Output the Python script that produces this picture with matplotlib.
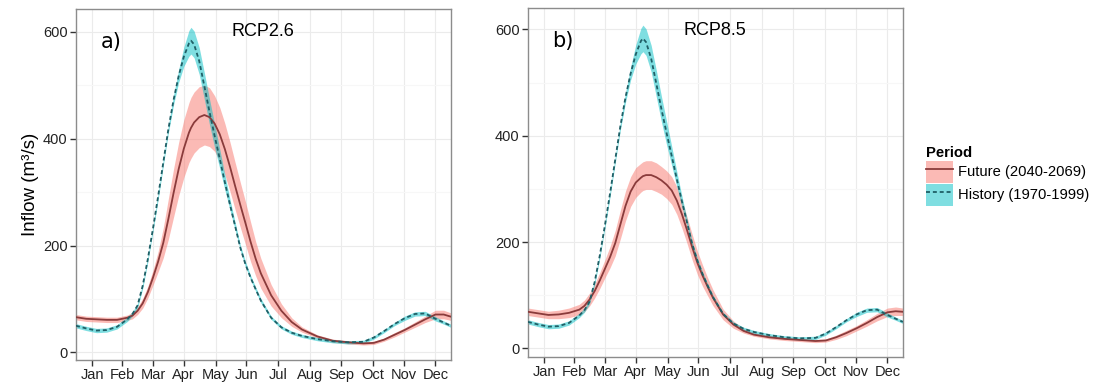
import numpy as np
import matplotlib
matplotlib.use("Agg")
import matplotlib.pyplot as plt
from matplotlib.patches import Patch
from matplotlib.lines import Line2D
from matplotlib.ticker import MultipleLocator

plt.rcParams["font.family"] = ["Liberation Sans", "DejaVu Sans"]

# day of year
days = [0, 10, 20, 30, 40, 50, 55, 60, 65, 70, 75, 80, 85, 90, 95, 100,
        105, 110, 112, 115, 120, 125, 130, 135, 140, 145, 150, 155, 160, 165,
        170, 175, 180, 190, 200, 210, 220, 235, 250, 265, 280, 290, 300,
        310, 320, 330, 340, 350, 358, 365]

# History (1970-1999), same in both panels
hist = [50, 45, 41, 42, 48, 62, 72, 88, 125, 175, 232, 292, 355, 418, 472, 517,
        553, 578, 583, 576, 545, 498, 450, 405, 362, 318, 276, 236, 196, 165,
        140, 118, 97, 65, 47, 37, 31, 25, 21, 19, 20, 28, 40,
        53, 64, 72, 73, 63, 56, 50]
hist_spread = [4, 4, 4, 4, 4, 4, 4, 4, 5, 5, 5, 6, 6, 7, 9, 12,
               18, 24, 25, 25, 25, 25, 24, 22, 18, 14, 10, 7, 5, 5,
               4, 4, 4, 3, 3, 3, 3, 3, 3, 3, 3, 3, 3,
               3, 4, 4, 4, 4, 3, 3]

# Future (2040-2069), RCP2.6
fut_26 = [66, 63, 62, 61, 61, 65, 69, 78, 92, 113, 140, 170, 205, 250, 298, 343,
          381, 411, 420, 430, 440, 444, 440, 428, 408, 380, 347, 311, 276, 242,
          207, 175, 148, 107, 78, 57, 43, 30, 22, 19, 17, 18, 24,
          33, 42, 52, 62, 71, 71, 67]
fut_26_spread = [5, 5, 5, 5, 5, 5, 6, 7, 9, 11, 14, 19, 28, 38, 45, 50,
                 54, 56, 57, 57, 57, 56, 55, 52, 50, 48, 46, 44, 42, 40,
                 37, 32, 28, 20, 13, 8, 5, 3, 3, 3, 3, 3, 3,
                 4, 4, 5, 6, 8, 8, 7]

# Future (2040-2069), RCP8.5
fut_85 = [69, 66, 63, 64, 67, 73, 80, 92, 108, 128, 150, 172, 198, 233, 268, 295,
          312, 321, 324, 326, 326, 322, 316, 308, 297, 278, 252, 222, 190, 161,
          137, 116, 96, 64, 45, 33, 26, 21, 18, 16, 14, 15, 21,
          29, 38, 48, 59, 68, 70, 69]
fut_85_spread = [7, 7, 7, 8, 9, 10, 11, 12, 13, 15, 17, 20, 24, 27, 28, 28,
                 28, 27, 27, 27, 27, 27, 26, 26, 26, 26, 26, 25, 24, 22,
                 20, 17, 15, 10, 7, 4, 3, 3, 3, 3, 3, 3, 4,
                 5, 5, 6, 7, 8, 8, 7]

months = ["Jan", "Feb", "Mar", "Apr", "May", "Jun", "Jul", "Aug", "Sep", "Oct", "Nov", "Dec"]
month_mid = [16, 45, 75, 105, 136, 166, 197, 228, 258, 289, 319, 350]

FUT_FILL = "#F8766D"
HIST_FILL = "#00BFC4"
FUT_LINE = "#8a3b3b"
HIST_LINE = "#1f5f66"
DASH = (0, (2.2, 1.6))


def draw_panel(ax, fut, fut_spread, letter, title, ylim):
    d = np.array(days)
    f = np.array(fut)
    fs = np.array(fut_spread)
    h = np.array(hist)
    hs = np.array(hist_spread)
    ax.fill_between(d, f - fs, f + fs, color=FUT_FILL, alpha=0.5, lw=0, zorder=2)
    ax.fill_between(d, h - hs, h + hs, color=HIST_FILL, alpha=0.5, lw=0, zorder=2)
    ax.plot(d, f, color=FUT_LINE, lw=1.3, zorder=3)
    ax.plot(d, h, color=HIST_LINE, lw=1.3, ls=DASH, zorder=3)

    ax.set_xlim(0, 365)
    ax.set_ylim(*ylim)
    ax.set_xticks(month_mid)
    ax.set_xticklabels(months)
    ax.set_yticks([0, 200, 400, 600])
    ax.yaxis.set_minor_locator(MultipleLocator(100))
    ax.grid(which="major", color="#ebebeb", lw=0.8, zorder=0)
    ax.grid(which="minor", axis="y", color="#f7f7f7", lw=0.8, zorder=0)
    ax.set_axisbelow(True)
    ax.tick_params(axis="both", which="major", length=4, width=1, color="#333333",
                   labelsize=10.5, labelcolor="#222222", pad=2)
    ax.tick_params(axis="y", which="minor", length=0)
    for s in ax.spines.values():
        s.set_color("#8c8c8c")
        s.set_linewidth(1.0)
    ax.text(0.093, 0.905, letter, transform=ax.transAxes, fontsize=15,
            family="DejaVu Sans", ha="center", va="center")
    ax.text(0.5, 0.935, title, transform=ax.transAxes, fontsize=13,
            ha="center", va="center")


fig = plt.figure(figsize=(10.93, 3.89), dpi=100)
ax1 = fig.add_axes([0.0695, 0.0746, 0.343, 0.902])
ax2 = fig.add_axes([0.483, 0.0823, 0.343, 0.897])

draw_panel(ax1, fut_26, fut_26_spread, "a)", "RCP2.6", (-14, 642))
draw_panel(ax2, fut_85, fut_85_spread, "b)", "RCP8.5", (-16, 640))

ax1.set_ylabel("Inflow (m³/s)", fontsize=13.5, labelpad=3)

handles = [
    (Patch(facecolor=FUT_FILL, alpha=0.5, edgecolor="none"),
     Line2D([], [], color=FUT_LINE, lw=1.3)),
    (Patch(facecolor=HIST_FILL, alpha=0.5, edgecolor="none"),
     Line2D([], [], color=HIST_LINE, lw=1.3, ls=DASH)),
]
leg = fig.legend(handles, ["Future (2040-2069)", "History (1970-1999)"],
                 title="Period", loc="upper left",
                 bbox_to_anchor=(0.847, 0.625), frameon=False,
                 fontsize=10.6, title_fontsize=10.6, handlelength=1.85,
                 handleheight=1.95, handletextpad=0.35, labelspacing=0.05,
                 borderaxespad=0, borderpad=0)
leg.get_title().set_fontweight("bold")
leg._legend_box.align = "left"

fig.savefig("out.png", dpi=100)
